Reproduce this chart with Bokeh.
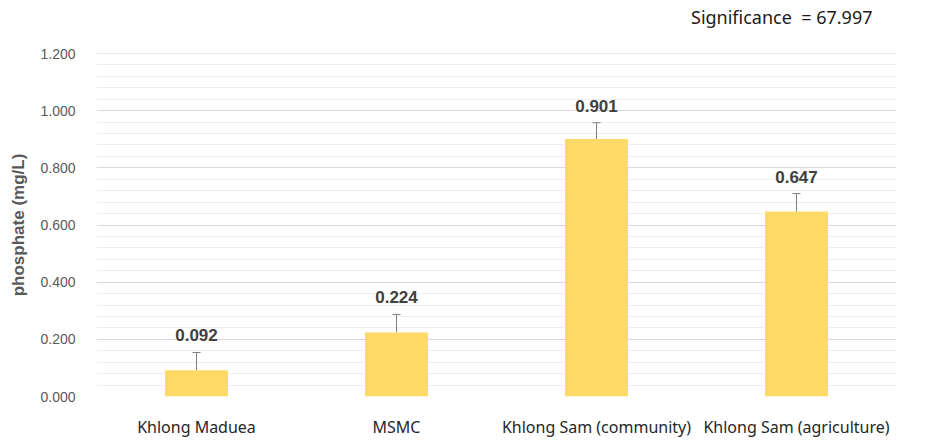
from bokeh.plotting import figure
from bokeh.models import (ColumnDataSource, Whisker, TeeHead, Title,
                          SingleIntervalTicker, NumeralTickFormatter, Range1d)
from bokeh.core.properties import value
from bokeh.embed import file_html
from bokeh.resources import INLINE

# Mean phosphate per sampling site with standard deviation
sites = ["Khlong Maduea", "MSMC", "Khlong Sam (community)", "Khlong Sam (agriculture)"]
phosphate = [0.092, 0.224, 0.901, 0.647]
sd = [0.062, 0.063, 0.057, 0.063]
significance = 67.997

src = ColumnDataSource(dict(
    site=sites,
    val=phosphate,
    upper=[v + e for v, e in zip(phosphate, sd)],
    label=[f"{v:.3f}" for v in phosphate],
))

p = figure(x_range=sites, y_range=Range1d(0, 1.2001),
           frame_width=800, frame_height=343,
           output_backend="svg", toolbar_location=None,
           min_border_left=96, min_border_right=46,
           min_border_top=53, min_border_bottom=45)
p.outline_line_color = None
p.background_fill_color = "white"
p.border_fill_color = "white"

p.vbar(x="site", top="val", width=0.315, source=src,
       fill_color="#FFD966", line_color=None)

whisk = Whisker(base="site", lower="val", upper="upper", source=src,
                line_color="#7f7f7f", line_width=1,
                upper_head=TeeHead(size=8, line_color="#7f7f7f", line_width=1),
                lower_head=None)
p.add_layout(whisk)

p.text(x="site", y="upper", text="label", source=src,
       text_align="center", text_baseline="bottom", y_offset=-11,
       text_font=value("Liberation Sans"), text_font_style="bold",
       text_font_size="17px", text_color="#404040")

# y axis
p.yaxis.ticker = SingleIntervalTicker(interval=0.2, num_minor_ticks=5)
p.yaxis.formatter = NumeralTickFormatter(format="0.000")
p.yaxis.axis_line_color = None
p.yaxis.major_tick_line_color = None
p.yaxis.minor_tick_line_color = None
p.yaxis.major_tick_out = 0
p.yaxis.minor_tick_out = 0
p.yaxis.major_label_text_font = "Liberation Sans"
p.yaxis.major_label_text_font_size = "14px"
p.yaxis.major_label_text_color = "#595959"
p.yaxis.major_label_standoff = 21
p.yaxis.axis_label = "phosphate (mg/L)"
p.yaxis.axis_label_text_font = "Liberation Sans"
p.yaxis.axis_label_text_font_style = "bold"
p.yaxis.axis_label_text_font_size = "17px"
p.yaxis.axis_label_text_color = "#595959"
p.yaxis.axis_label_standoff = 9

# x axis
p.xaxis.axis_line_color = None
p.xaxis.major_tick_line_color = None
p.xaxis.minor_tick_line_color = None
p.xaxis.major_tick_out = 0
p.xaxis.minor_tick_out = 0
p.xaxis.major_label_text_font = "Noto Sans"
p.xaxis.major_label_text_font_size = "16px"
p.xaxis.major_label_text_color = "#262626"
p.xaxis.major_label_standoff = 19

# grid
p.xgrid.grid_line_color = None
p.ygrid.grid_line_color = "#d9d9d9"
p.ygrid.minor_grid_line_color = "#eeeeee"

# significance note at the top right; the blank second line lifts it away from the frame
sig = Title(text=f"Significance \u00a0= {significance:.3f}\n\u00a0", align="right",
            vertical_align="bottom", offset=24, standoff=2,
            text_font="Noto Sans", text_font_size="18px",
            text_font_style="normal", text_color="#1a1a1a")
p.add_layout(sig, "above")

open("out.html", "w").write(file_html(p, INLINE))
